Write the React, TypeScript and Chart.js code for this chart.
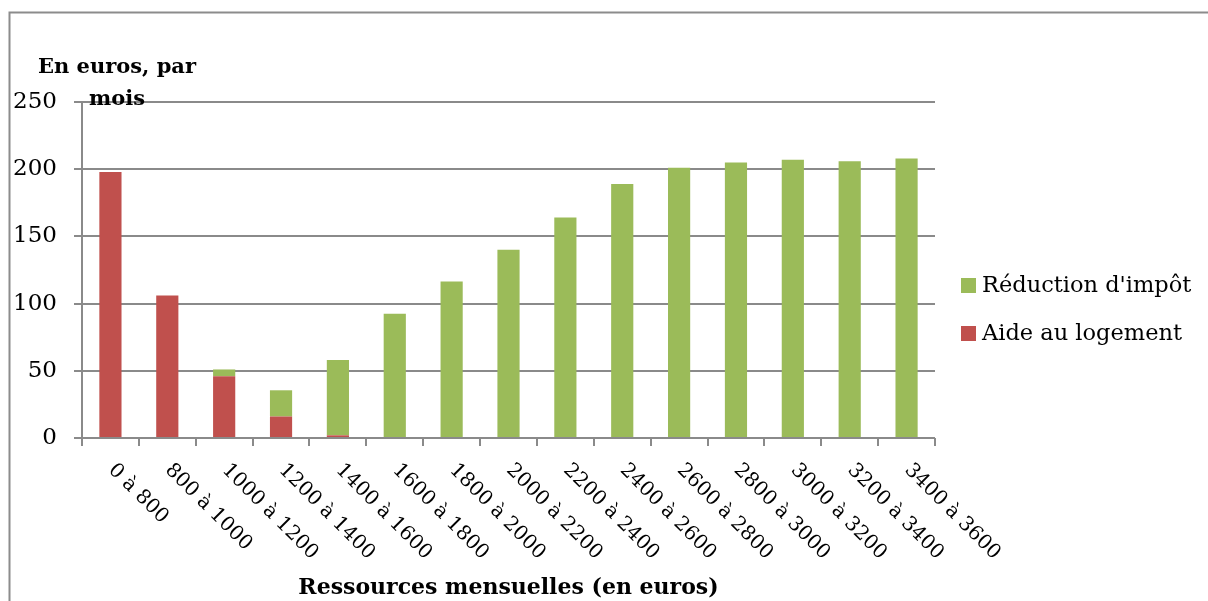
import React, { useEffect, useRef } from "react";
import { Chart, registerables } from "chart.js";

Chart.register(...registerables);

const categories = [
  "0 à 800", "800 à 1000", "1000 à 1200", "1200 à 1400", "1400 à 1600",
  "1600 à 1800", "1800 à 2000", "2000 à 2200", "2200 à 2400", "2400 à 2600",
  "2600 à 2800", "2800 à 3000", "3000 à 3200", "3200 à 3400", "3400 à 3600",
];
const aideLogement = [198, 106, 46, 16, 2, 0, 0, 0, 0, 0, 0, 0, 0, 0, 0];
const reductionImpot = [0, 0, 5, 19.5, 56, 92.5, 116.5, 140, 164, 189, 201, 205, 207, 206, 208];
const yTicks = [0, 50, 100, 150, 200, 250];
const yTitleLines = ["En euros, par", "mois"];
const xTitle = "Ressources mensuelles (en euros)";

const FONT = "'DejaVu Serif', serif";
const GRID = "#8a8a8a";

const customPlugin = {
  id: "custom",
  afterDraw(chart: any) {
    const ctx = chart.ctx;
    const xs = chart.scales.x;
    const area = chart.chartArea;
    ctx.save();
    // outer frame
    ctx.strokeStyle = "#8c8c8c";
    ctx.lineWidth = 2;
    ctx.beginPath();
    ctx.moveTo(1208, 12.5);
    ctx.lineTo(9.5, 12.5);
    ctx.lineTo(9.5, 601);
    ctx.stroke();

    // rotated category labels
    ctx.fillStyle = "#000";
    ctx.font = `20px ${FONT}`;
    ctx.textAlign = "left";
    ctx.textBaseline = "middle";
    (chart.data.labels as string[]).forEach((lab, i) => {
      const x = xs.getPixelForValue(i);
      ctx.save();
      ctx.translate(x + 1, 467);
      ctx.rotate(Math.PI / 4);
      ctx.fillText(lab, 0, 0);
      ctx.restore();
    });

    // x title
    ctx.font = `bold 22px ${FONT}`;
    ctx.textAlign = "center";
    ctx.textBaseline = "alphabetic";
    ctx.fillText(xTitle, (area.left + area.right) / 2, 594);

    // y title
    ctx.font = `bold 21px ${FONT}`;
    ctx.fillText(yTitleLines[0], 117, 73);
    ctx.fillText(yTitleLines[1], 117, 105);

    // legend (reverse order)
    ctx.font = `22.5px ${FONT}`;
    ctx.textAlign = "left";
    ctx.textBaseline = "middle";
    const ds = [...chart.data.datasets].reverse();
    ds.forEach((d: any, i: number) => {
      const y = 286 + i * 48;
      ctx.fillStyle = d.backgroundColor;
      ctx.fillRect(961, y - 8, 15, 15);
      ctx.fillStyle = "#000";
      ctx.fillText(d.label, 982, y);
    });
    ctx.restore();
  },
};

export default function App() {
  const ref = useRef<HTMLCanvasElement | null>(null);
  useEffect(() => {
    if (!ref.current) return;
    const chart = new Chart(ref.current, {
      type: "bar",
      data: {
        labels: categories,
        datasets: [
          {
            label: "Aide au logement",
            data: aideLogement,
            backgroundColor: "#C0504D",
            barPercentage: 0.39,
            categoryPercentage: 1,
          },
          {
            label: "Réduction d'impôt",
            data: reductionImpot,
            backgroundColor: "#9BBB59",
            barPercentage: 0.39,
            categoryPercentage: 1,
          },
        ],
      },
      options: {
        animation: false,
        responsive: false,
        devicePixelRatio: 1,
        layout: { padding: { left: 0, top: 102, right: 273, bottom: 0 } },
        plugins: { legend: { display: false }, tooltip: { enabled: false }, title: { display: false } },
        scales: {
          x: {
            stacked: true,
            grid: {
              offset: true,
              drawOnChartArea: false,
              drawTicks: true,
              tickLength: 8,
              color: GRID,
              lineWidth: 2,
            },
            border: { display: false },
            ticks: { display: false },
            afterFit(scale: any) {
              scale.height = 163;
            },
          },
          y: {
            stacked: true,
            min: 0,
            max: 250,
            afterBuildTicks(scale: any) {
              scale.ticks = yTicks.map((v) => ({ value: v }));
            },
            grid: { color: GRID, lineWidth: 2, tickLength: 8 },
            border: { display: true, color: GRID, width: 2 },
            ticks: {
              font: { family: "DejaVu Serif", size: 23 },
              color: "#000",
              padding: 17,
            },
            afterFit(scale: any) {
              scale.width = 82;
            },
          },
        },
      },
      plugins: [customPlugin],
    });
    return () => chart.destroy();
  }, []);
  return (
    <div style={{ position: "absolute", left: 0, top: 0, width: 1208, height: 601, background: "#fff" }}>
      <canvas ref={ref} width={1208} height={601} style={{ width: 1208, height: 601, display: "block" }} />
    </div>
  );
}
